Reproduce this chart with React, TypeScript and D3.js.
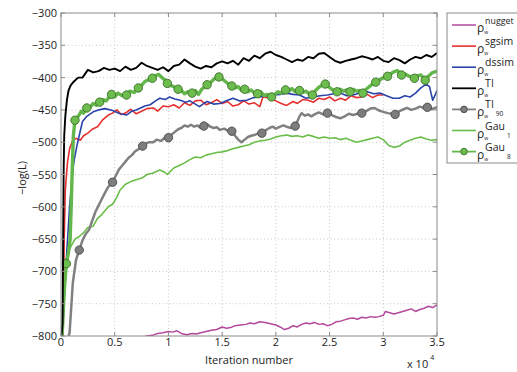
import React from 'react';
import * as d3 from 'd3';

// iterations are in units of 1e4, values are -log(L)
const xTicks = [0, 0.5, 1, 1.5, 2, 2.5, 3, 3.5];
const xTickLabels = ['0', '0.5', '1', '1.5', '2', '2.5', '3', '3.5'];
const yTicks = [-300, -350, -400, -450, -500, -550, -600, -650, -700, -750, -800];

const nugget = [[0.75,-802],[0.8,-800],[0.85,-799],[0.9,-796],[0.95,-795],[1.0,-793],[1.04,-794],[1.08,-792],[1.12,-796],[1.17,-798],[1.22,-796],[1.26,-797],[1.3,-795],[1.35,-793],[1.4,-791],[1.45,-790],[1.5,-786],[1.54,-788],[1.58,-787],[1.62,-784],[1.67,-783],[1.72,-782],[1.76,-780],[1.8,-781],[1.85,-778],[1.9,-779],[1.95,-781],[2.0,-783],[2.04,-786],[2.08,-790],[2.12,-788],[2.16,-784],[2.2,-786],[2.24,-782],[2.28,-780],[2.32,-781],[2.36,-779],[2.4,-782],[2.44,-781],[2.48,-784],[2.52,-782],[2.56,-778],[2.6,-777],[2.64,-775],[2.68,-773],[2.72,-772],[2.76,-774],[2.8,-771],[2.84,-772],[2.88,-770],[2.92,-771],[2.96,-770],[3.0,-768],[3.02,-762],[3.06,-764],[3.1,-766],[3.14,-764],[3.18,-762],[3.22,-760],[3.26,-758],[3.3,-762],[3.34,-759],[3.38,-757],[3.42,-754],[3.46,-756],[3.5,-752]];

const sgsim = [[0.02,-800],[0.03,-650],[0.04,-574],[0.06,-532],[0.08,-510],[0.11,-497],[0.14,-494],[0.18,-497],[0.21,-490],[0.25,-486],[0.29,-480],[0.34,-476],[0.39,-465],[0.44,-458],[0.48,-455],[0.52,-450],[0.56,-457],[0.6,-455],[0.65,-449],[0.7,-456],[0.74,-453],[0.8,-448],[0.86,-447],[0.9,-452],[0.95,-444],[1.0,-445],[1.05,-442],[1.1,-447],[1.15,-439],[1.2,-443],[1.25,-436],[1.3,-435],[1.35,-442],[1.4,-439],[1.45,-434],[1.5,-440],[1.55,-437],[1.6,-444],[1.65,-442],[1.7,-436],[1.75,-441],[1.8,-439],[1.85,-445],[1.88,-430],[1.95,-432],[2.0,-436],[2.05,-440],[2.1,-443],[2.16,-437],[2.2,-440],[2.25,-434],[2.3,-435],[2.35,-438],[2.4,-432],[2.45,-434],[2.5,-430],[2.55,-436],[2.6,-432],[2.65,-435],[2.7,-428],[2.75,-431],[2.8,-430],[2.85,-426],[2.9,-431],[2.95,-427],[3.0,-427]];

const dssim = [[0.01,-800],[0.02,-775],[0.05,-680],[0.08,-600],[0.1,-560],[0.12,-530],[0.15,-504],[0.2,-468],[0.24,-460],[0.3,-453],[0.35,-450],[0.41,-448],[0.48,-451],[0.55,-456],[0.61,-458],[0.66,-452],[0.7,-450],[0.74,-447],[0.78,-444],[0.83,-442],[0.88,-436],[0.92,-432],[0.97,-434],[1.01,-430],[1.06,-433],[1.11,-435],[1.16,-438],[1.2,-436],[1.25,-441],[1.29,-445],[1.33,-440],[1.36,-437],[1.42,-441],[1.48,-440],[1.54,-436],[1.6,-432],[1.66,-436],[1.73,-435],[1.79,-431],[1.85,-430],[1.91,-428],[1.98,-427],[2.04,-426],[2.1,-424],[2.16,-426],[2.22,-427],[2.28,-432],[2.35,-430],[2.41,-428],[2.48,-427],[2.54,-425],[2.6,-424],[2.66,-428],[2.72,-427],[2.78,-424],[2.85,-422],[2.91,-425],[2.97,-424],[3.03,-428],[3.09,-432],[3.15,-432],[3.2,-428],[3.25,-430],[3.3,-424],[3.35,-416],[3.4,-410],[3.43,-414],[3.46,-435],[3.48,-428],[3.5,-420]];

const ti = [[0.005,-800],[0.015,-780],[0.02,-650],[0.025,-540],[0.03,-490],[0.04,-460],[0.055,-435],[0.07,-420],[0.09,-412],[0.12,-406],[0.16,-400],[0.2,-400],[0.25,-388],[0.3,-392],[0.35,-390],[0.4,-385],[0.45,-388],[0.5,-386],[0.55,-390],[0.6,-383],[0.65,-388],[0.7,-385],[0.75,-377],[0.8,-382],[0.85,-385],[0.9,-388],[0.95,-384],[1.0,-390],[1.05,-382],[1.1,-380],[1.15,-372],[1.2,-378],[1.25,-383],[1.3,-386],[1.35,-382],[1.4,-384],[1.45,-378],[1.5,-375],[1.55,-378],[1.6,-374],[1.65,-380],[1.7,-370],[1.75,-374],[1.8,-366],[1.85,-370],[1.9,-363],[1.95,-360],[2.0,-365],[2.05,-368],[2.1,-372],[2.15,-376],[2.2,-372],[2.25,-374],[2.3,-368],[2.35,-370],[2.4,-363],[2.45,-362],[2.5,-368],[2.55,-374],[2.6,-377],[2.65,-374],[2.7,-372],[2.75,-370],[2.8,-367],[2.85,-369],[2.9,-372],[2.95,-368],[3.0,-374],[3.05,-376],[3.1,-370],[3.15,-373],[3.2,-378],[3.25,-372],[3.3,-368],[3.35,-370],[3.4,-365],[3.45,-368],[3.5,-362]];

const ti90 = [[0.07,-800],[0.08,-795],[0.11,-718],[0.14,-682],[0.17,-667],[0.2,-652],[0.23,-642],[0.26,-636],[0.29,-622],[0.32,-608],[0.35,-598],[0.38,-588],[0.41,-578],[0.44,-569],[0.48,-562],[0.51,-552],[0.54,-542],[0.57,-536],[0.6,-530],[0.63,-524],[0.66,-520],[0.69,-514],[0.72,-511],[0.76,-506],[0.79,-502],[0.82,-500],[0.86,-500],[0.89,-496],[0.93,-498],[0.96,-494],[1.0,-493],[1.03,-488],[1.06,-484],[1.09,-480],[1.12,-478],[1.15,-474],[1.18,-476],[1.21,-473],[1.24,-476],[1.27,-474],[1.3,-478],[1.33,-475],[1.36,-472],[1.39,-476],[1.42,-478],[1.45,-477],[1.48,-481],[1.52,-479],[1.55,-482],[1.59,-483],[1.62,-490],[1.65,-496],[1.68,-500],[1.71,-496],[1.74,-492],[1.77,-490],[1.8,-489],[1.84,-486],[1.87,-486],[1.9,-482],[1.94,-478],[1.97,-476],[2.0,-479],[2.04,-476],[2.07,-474],[2.1,-476],[2.14,-478],[2.18,-475],[2.2,-468],[2.22,-460],[2.24,-455],[2.27,-459],[2.3,-457],[2.33,-460],[2.36,-457],[2.4,-454],[2.44,-457],[2.48,-455],[2.52,-458],[2.56,-461],[2.6,-463],[2.64,-460],[2.68,-456],[2.72,-458],[2.76,-456],[2.8,-455],[2.84,-452],[2.88,-448],[2.92,-447],[2.96,-451],[3.0,-453],[3.04,-455],[3.08,-456],[3.11,-457],[3.15,-452],[3.19,-449],[3.22,-447],[3.26,-450],[3.3,-448],[3.34,-445],[3.38,-447],[3.41,-446],[3.45,-449],[3.48,-447],[3.5,-446]];
const ti90Markers = [0.17, 0.48, 0.76, 1.0, 1.33, 1.59, 1.87, 2.18, 2.48, 2.8, 3.11, 3.41];

const gau1 = [[0.01,-800],[0.03,-730],[0.05,-690],[0.08,-665],[0.13,-650],[0.17,-646],[0.21,-640],[0.25,-632],[0.3,-630],[0.34,-618],[0.38,-612],[0.44,-600],[0.48,-596],[0.52,-585],[0.55,-574],[0.6,-565],[0.65,-561],[0.7,-558],[0.76,-555],[0.8,-550],[0.85,-548],[0.92,-543],[0.96,-546],[0.99,-550],[1.05,-540],[1.1,-536],[1.15,-532],[1.2,-527],[1.25,-523],[1.3,-524],[1.35,-520],[1.4,-518],[1.45,-516],[1.5,-515],[1.55,-513],[1.6,-510],[1.65,-508],[1.7,-506],[1.75,-504],[1.8,-500],[1.85,-498],[1.9,-497],[1.95,-495],[2.0,-492],[2.05,-490],[2.1,-489],[2.15,-491],[2.2,-490],[2.25,-492],[2.3,-489],[2.35,-491],[2.4,-494],[2.45,-492],[2.5,-494],[2.55,-493],[2.6,-496],[2.65,-494],[2.7,-497],[2.75,-500],[2.8,-498],[2.85,-496],[2.9,-494],[2.95,-492],[3.0,-496],[3.05,-505],[3.1,-508],[3.15,-506],[3.2,-500],[3.25,-497],[3.3,-494],[3.35,-492],[3.4,-495],[3.45,-497],[3.5,-496]];

const gau8 = [[0.01,-800],[0.03,-730],[0.05,-688],[0.07,-670],[0.085,-650],[0.095,-600],[0.105,-540],[0.115,-490],[0.13,-466],[0.16,-460],[0.19,-452],[0.21,-455],[0.24,-447],[0.27,-446],[0.3,-440],[0.33,-443],[0.36,-438],[0.39,-434],[0.42,-436],[0.45,-430],[0.47,-426],[0.5,-430],[0.53,-424],[0.57,-428],[0.61,-427],[0.64,-421],[0.68,-423],[0.72,-416],[0.75,-412],[0.78,-406],[0.81,-404],[0.85,-401],[0.88,-397],[0.91,-395],[0.94,-400],[0.97,-404],[0.99,-409],[1.02,-412],[1.05,-414],[1.09,-418],[1.12,-420],[1.15,-425],[1.18,-422],[1.22,-424],[1.25,-420],[1.28,-426],[1.31,-418],[1.34,-414],[1.36,-411],[1.39,-408],[1.42,-403],[1.45,-400],[1.47,-399],[1.5,-402],[1.53,-406],[1.56,-410],[1.59,-413],[1.62,-416],[1.65,-414],[1.68,-420],[1.71,-418],[1.74,-422],[1.77,-419],[1.8,-424],[1.83,-425],[1.86,-422],[1.89,-428],[1.92,-426],[1.96,-430],[1.99,-426],[2.02,-422],[2.05,-424],[2.09,-419],[2.12,-421],[2.15,-417],[2.18,-422],[2.22,-420],[2.25,-423],[2.28,-421],[2.31,-425],[2.34,-427],[2.37,-420],[2.4,-415],[2.43,-412],[2.46,-410],[2.49,-414],[2.52,-418],[2.55,-421],[2.57,-422],[2.6,-418],[2.63,-421],[2.66,-419],[2.69,-422],[2.72,-418],[2.75,-421],[2.78,-420],[2.81,-424],[2.84,-418],[2.87,-414],[2.9,-410],[2.93,-407],[2.96,-404],[2.99,-401],[3.02,-399],[3.04,-398],[3.07,-394],[3.1,-391],[3.13,-389],[3.17,-396],[3.2,-394],[3.23,-397],[3.26,-399],[3.29,-401],[3.32,-397],[3.35,-396],[3.39,-404],[3.42,-398],[3.45,-393],[3.48,-391],[3.5,-390]];
const gau8Markers = [0.05, 0.13, 0.24, 0.36, 0.47, 0.61, 0.72, 0.85, 0.99, 1.09, 1.22, 1.36, 1.47, 1.59, 1.71, 1.83, 1.96, 2.09, 2.22, 2.34, 2.46, 2.57, 2.69, 2.81, 2.93, 3.04, 3.17, 3.29, 3.39];

const series = [
  { key: 'nugget', data: nugget, color: '#b4489c', width: 1.5, sup: 'nugget', sub: '' },
  { key: 'sgsim', data: sgsim, color: '#e6302f', width: 1.6, sup: 'sgsim', sub: '' },
  { key: 'dssim', data: dssim, color: '#2a44aa', width: 1.6, sup: 'dssim', sub: '' },
  { key: 'ti', data: ti, color: '#000000', width: 1.9, sup: 'TI', sub: '' },
  { key: 'ti90', data: ti90, color: '#808080', width: 2.5, sup: 'TI', sub: '90', markers: ti90Markers, mFill: '#7d7d7d', mStroke: '#4a4a4a' },
  { key: 'gau1', data: gau1, color: '#6abd48', width: 1.6, sup: 'Gau', sub: '1' },
  { key: 'gau8', data: gau8, color: '#62b64a', width: 3.4, sup: 'Gau', sub: '8', markers: gau8Markers, mFill: '#6cbd4e', mStroke: '#3c6e2c' },
];

const W = 517, H = 372;
const plot = { left: 61, right: 437, top: 13, bottom: 336 };
const font = '"Open Sans", sans-serif';

export default function App() {
  const x = d3.scaleLinear().domain([0, 3.5]).range([plot.left, plot.right]);
  const y = d3.scaleLinear().domain([-800, -300]).range([plot.bottom, plot.top]);
  const line = d3.line<number[]>().x(d => x(d[0])).y(d => y(d[1]));
  const drawOrder = ['nugget', 'gau1', 'ti90', 'sgsim', 'dssim', 'gau8', 'ti'];

  return (
    <svg width={W} height={H} style={{ position: 'absolute', left: 0, top: 0, background: '#fff' }} fontFamily={font}>
      <defs>
        <clipPath id="plotclip">
          <rect x={plot.left} y={plot.top} width={plot.right - plot.left} height={plot.bottom - plot.top} />
        </clipPath>
      </defs>
      <rect x={plot.left} y={plot.top} width={plot.right - plot.left} height={plot.bottom - plot.top} fill="#fff" />
      {/* grid */}
      {xTicks.slice(1, -1).map(t => (
        <line key={'gx' + t} x1={x(t)} x2={x(t)} y1={plot.top} y2={plot.bottom} stroke="#c8c8c8" strokeDasharray="1,2.5" />
      ))}
      {yTicks.slice(1, -1).map(t => (
        <line key={'gy' + t} x1={plot.left} x2={plot.right} y1={y(t)} y2={y(t)} stroke="#c8c8c8" strokeDasharray="1,2.5" />
      ))}
      {/* lines */}
      <g clipPath="url(#plotclip)">
        {drawOrder.map(k => {
          const s = series.find(d => d.key === k)!;
          return (
            <g key={k}>
              <path d={line(s.data) || ''} fill="none" stroke={s.color} strokeWidth={s.width} strokeLinejoin="round" />
              {s.markers && s.markers.map(mx => {
                const p = s.data.find(d => Math.abs(d[0] - mx) < 1e-6)!;
                return <circle key={mx} cx={x(p[0])} cy={y(p[1])} r={4.2} fill={s.mFill} stroke={s.mStroke} strokeWidth={0.9} />;
              })}
            </g>
          );
        })}
      </g>
      {/* frame and ticks */}
      <rect x={plot.left} y={plot.top} width={plot.right - plot.left} height={plot.bottom - plot.top} fill="none" stroke="#8a8a8a" strokeWidth={1} />
      {xTicks.map(t => (
        <g key={'tx' + t}>
          <line x1={x(t)} x2={x(t)} y1={plot.bottom} y2={plot.bottom - 4} stroke="#8a8a8a" />
          <line x1={x(t)} x2={x(t)} y1={plot.top} y2={plot.top + 4} stroke="#8a8a8a" />
        </g>
      ))}
      {yTicks.map(t => (
        <g key={'ty' + t}>
          <line x1={plot.left} x2={plot.left + 4} y1={y(t)} y2={y(t)} stroke="#8a8a8a" />
          <line x1={plot.right} x2={plot.right - 4} y1={y(t)} y2={y(t)} stroke="#8a8a8a" />
        </g>
      ))}
      {/* tick labels */}
      {xTicks.map((t, i) => (
        <text key={'lx' + t} x={x(t)} y={plot.bottom + 10} textAnchor="middle" fontSize={11} fill="#222">{xTickLabels[i]}</text>
      ))}
      {yTicks.map(t => (
        <text key={'ly' + t} x={plot.left - 4} y={y(t) + 4} textAnchor="end" fontSize={11} fill="#222">{'\u2212' + Math.abs(t)}</text>
      ))}
      <text x={(plot.left + plot.right) / 2} y={364} textAnchor="middle" fontSize={11} fill="#222">Iteration number</text>
      <text x={407} y={368} fontSize={11} fill="#222">x 10<tspan fontSize={7} dx={2} dy={-8}>4</tspan></text>
      <text transform={`translate(26,178) rotate(-90)`} textAnchor="middle" fontSize={11} fill="#222">{'\u2212log(L)'}</text>
      {/* legend */}
      <rect x={447} y={13} width={90} height={150} fill="#fff" stroke="#8a8a8a" />
      {series.map((s, i) => {
        const ly = 25 + i * 21.1;
        return (
          <g key={'lg' + s.key}>
            <line x1={452} x2={476} y1={ly} y2={ly} stroke={s.color} strokeWidth={Math.min(s.width, 1.8)} />
            {s.markers && <circle cx={464} cy={ly} r={3.3} fill={s.mFill} stroke={s.mStroke} strokeWidth={0.9} />}
            <text x={477} y={ly + 7} fontSize={12} fill="#222">
              {'\u03c1'}
              <tspan fontSize={5} dy={2}>w</tspan>
              <tspan fontSize={s.sup.length > 5 ? 8.8 : 10.5} dx={-3} dy={-10}>{s.sup}</tspan>
              {s.sub && <tspan fontSize={6.5} dx={2} dy={8}>{s.sub}</tspan>}
            </text>
          </g>
        );
      })}
    </svg>
  );
}
